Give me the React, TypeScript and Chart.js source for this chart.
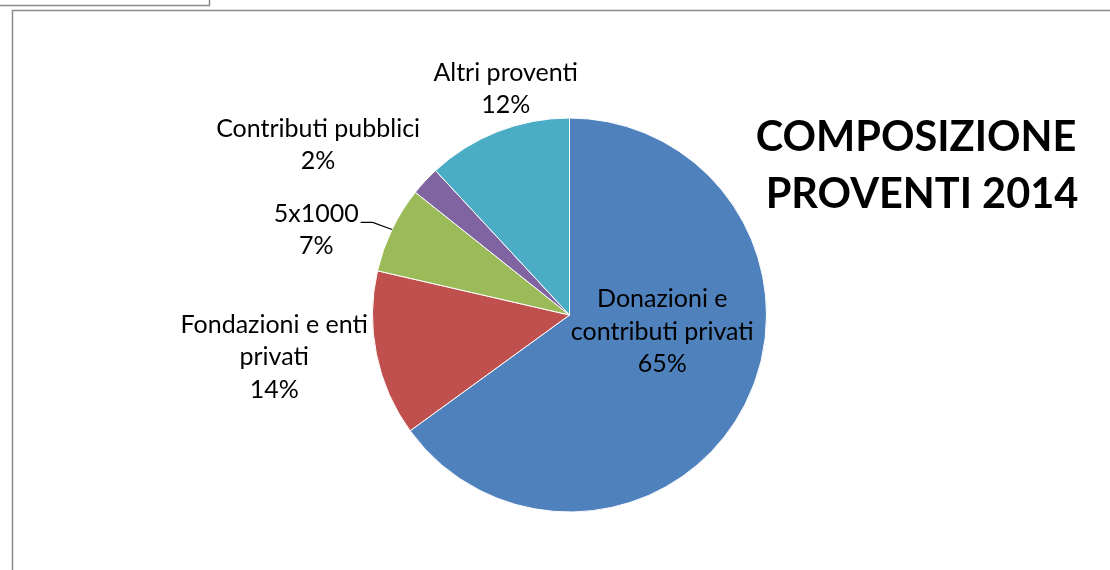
import React, { useEffect, useRef } from "react";
import { Chart, registerables } from "chart.js";

Chart.register(...registerables);

const categories = [
  "Donazioni e contributi privati",
  "Fondazioni e enti privati",
  "5x1000",
  "Contributi pubblici",
  "Altri proventi",
];
const values = [65.0, 13.6, 7.1, 2.4, 11.9];
const colors = ["#4F81BD", "#C0504D", "#9BBB59", "#8064A2", "#4BACC6"];
const labelLines = [
  ["Donazioni e", "contributi privati"],
  ["Fondazioni e enti", "privati"],
  ["5x1000"],
  ["Contributi pubblici"],
  ["Altri proventi"],
];
const titleLines = ["COMPOSIZIONE", "PROVENTI 2014"];

// label block centres, relative to the pie centre in units of radius
const labelAnchors = [
  { dx: 0.471, dy: 0.084, leader: false },
  { dx: -1.499, dy: 0.213, leader: false },
  { dx: -1.286, dy: -0.433, leader: true },
  { dx: -1.276, dy: -0.863, leader: false },
  { dx: -0.324, dy: -1.147, leader: false },
];

const LABEL_FONT = '25px Lato, "Noto Sans", sans-serif';
const TITLE_FONT = 'bold 41.5px Lato, "Noto Sans", sans-serif';

const framePlugin = {
  id: "frame",
  beforeDraw(chart: any) {
    const ctx = chart.ctx;
    ctx.save();
    ctx.fillStyle = "#ffffff";
    ctx.fillRect(0, 0, chart.width, chart.height);
    ctx.strokeStyle = "#8a8a8a";
    ctx.lineWidth = 1.5;
    ctx.beginPath();
    ctx.moveTo(0, 5.5);
    ctx.lineTo(209.5, 5.5);
    ctx.lineTo(209.5, 0);
    ctx.stroke();
    ctx.beginPath();
    ctx.moveTo(12.5, chart.height);
    ctx.lineTo(12.5, 10.5);
    ctx.lineTo(chart.width, 10.5);
    ctx.stroke();
    ctx.restore();
  },
};

const labelPlugin = {
  id: "pieLabels",
  afterDraw(chart: any) {
    const ctx = chart.ctx;
    const meta = chart.getDatasetMeta(0);
    const total = values.reduce((a, b) => a + b, 0);
    ctx.save();
    ctx.fillStyle = "#000";
    ctx.textAlign = "center";
    ctx.textBaseline = "middle";
    ctx.font = LABEL_FONT;
    const lh = 32.5;
    meta.data.forEach((arc: any, i: number) => {
      const r = arc.outerRadius;
      const cx = arc.x + labelAnchors[i].dx * r;
      const cy = arc.y + labelAnchors[i].dy * r;
      const lines = [...labelLines[i], Math.round((values[i] / total) * 100) + "%"];
      const top = cy - ((lines.length - 1) * lh) / 2;
      lines.forEach((t, k) => ctx.fillText(t, cx, top + k * lh));
      if (labelAnchors[i].leader) {
        const w = ctx.measureText(labelLines[i][0]).width;
        const sx = cx + w / 2 + 2;
        const sy = top + 9;
        const mid = (arc.startAngle + arc.endAngle) / 2;
        const ex = arc.x + Math.cos(mid) * r;
        const ey = arc.y + Math.sin(mid) * r;
        ctx.strokeStyle = "#000";
        ctx.lineWidth = 1.2;
        ctx.beginPath();
        ctx.moveTo(sx, sy);
        ctx.lineTo(sx + 12, sy);
        ctx.lineTo(ex, ey);
        ctx.stroke();
      }
    });
    ctx.font = TITLE_FONT;
    ctx.fillText(titleLines[0], 916, 138);
    ctx.fillText(titleLines[1], 922, 195);
    ctx.restore();
  },
};

export default function App() {
  const ref = useRef<HTMLCanvasElement | null>(null);
  useEffect(() => {
    if (!ref.current) return;
    const chart = new Chart(ref.current, {
      type: "pie",
      data: {
        labels: categories,
        datasets: [
          {
            data: values,
            backgroundColor: colors,
            borderColor: "#ffffff",
            borderWidth: 1,
          },
        ],
      },
      options: {
        responsive: false,
        animation: false,
        devicePixelRatio: 1,
        layout: { padding: { top: 117, bottom: 57, left: 372, right: 343 } },
        plugins: {
          legend: { display: false },
          tooltip: { enabled: false },
          title: { display: false },
        },
      },
      plugins: [framePlugin, labelPlugin],
    });
    return () => chart.destroy();
  }, []);
  return (
    <div style={{ position: "absolute", left: 0, top: 0, width: 1110, height: 570 }}>
      <canvas ref={ref} width={1110} height={570} style={{ display: "block" }} />
    </div>
  );
}
